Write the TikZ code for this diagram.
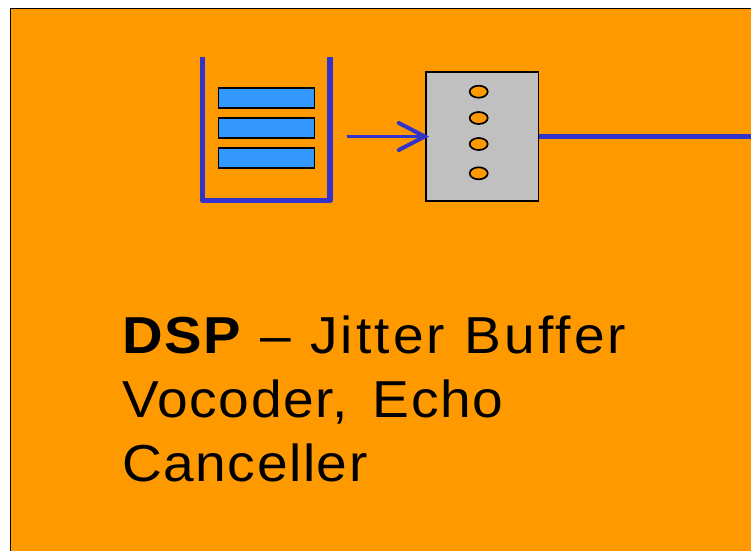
\documentclass[tikz,border=0pt]{standalone}
\usepackage{fontspec}
\setmainfont{Liberation Sans}[FakeStretch=1.06,LetterSpace=3,WordSpace=1.5]
\newfontface\firstlinereg{Liberation Sans}[FakeStretch=1.06,LetterSpace=6,WordSpace=1.05]
\newfontface\firstlinebold{Liberation Sans Bold}[FakeStretch=1.08,LetterSpace=3,WordSpace=1.05]
\usetikzlibrary{arrows.meta,shapes.geometric}
\definecolor{bgorange}{HTML}{FF9900}
\definecolor{wireblue}{HTML}{3333CC}
\definecolor{slotblue}{HTML}{3399FF}
\definecolor{boxgray}{HTML}{C0C0C0}
\tikzset{
  x=1pt,y=-1pt,
  slot/.style={draw=black,line width=1.8pt,fill=slotblue,minimum width=96pt,minimum height=20pt,inner sep=0pt,outer sep=0pt},
  pin/.style={draw=black,line width=1.7pt,fill=bgorange,ellipse,minimum width=18pt,minimum height=12pt,inner sep=0pt},
  panel/.style={draw=black,line width=1.6pt,fill=boxgray,minimum width=112.5pt,minimum height=128.5pt,inner sep=0pt,outer sep=0pt},
  wire/.style={draw=wireblue},
}
\begin{document}
\begin{tikzpicture}
\useasboundingbox (0,0) rectangle (751,550);
\clip (0,0) rectangle (751,550);
\path[fill=white] (0,0) rectangle (751,550);
\path[fill=bgorange,draw=black,line width=1.8pt] (10.5,8.5) -- (770,8.5) -- (770,570) -- (10.5,570) -- cycle;
% buffer
\coordinate (bufTL) at (202.5,56.5);
\coordinate (bufBL) at (202.5,200.5);
\coordinate (bufBR) at (330,200.5);
\coordinate (bufTR) at (330,56.5);
\draw[wire,line width=5.5pt,line join=round] (bufTL) -- (bufBL) -- (bufBR) -- (bufTR);
\node[slot] (s1) at (266.5,98.3) {};
\node[slot] (s2) at (266.5,128.3) {};
\node[slot] (s3) at (266.5,158.3) {};
% panel
\node[panel] (dsp) at (482.4,136.5) {};
\node[pin] (p1) at (478.7,91.7) {};
\node[pin] (p2) at (478.7,118) {};
\node[pin] (p3) at (478.7,144) {};
\node[pin] (p4) at (478.7,173.3) {};
% connectors
\coordinate (in) at (346.5,136.5);
\coordinate (out) at (760,136.5);
\draw[wire,line width=3pt,-{Straight Barb[length=26pt,width=27pt,line width=4pt,line cap=round]}] (in) -- ([xshift=3pt]dsp.west);
\draw[wire,line width=5.5pt] (dsp.east) -- (out);
% label
\node[anchor=base west,align=left,inner sep=0pt,font=\fontsize{52}{64}\selectfont] (label) at (122,481.7) {{\firstlinebold DSP}{\firstlinereg{} – Jitter Buffer}\\Vocoder, Echo\\Canceller};
\end{tikzpicture}
\end{document}
